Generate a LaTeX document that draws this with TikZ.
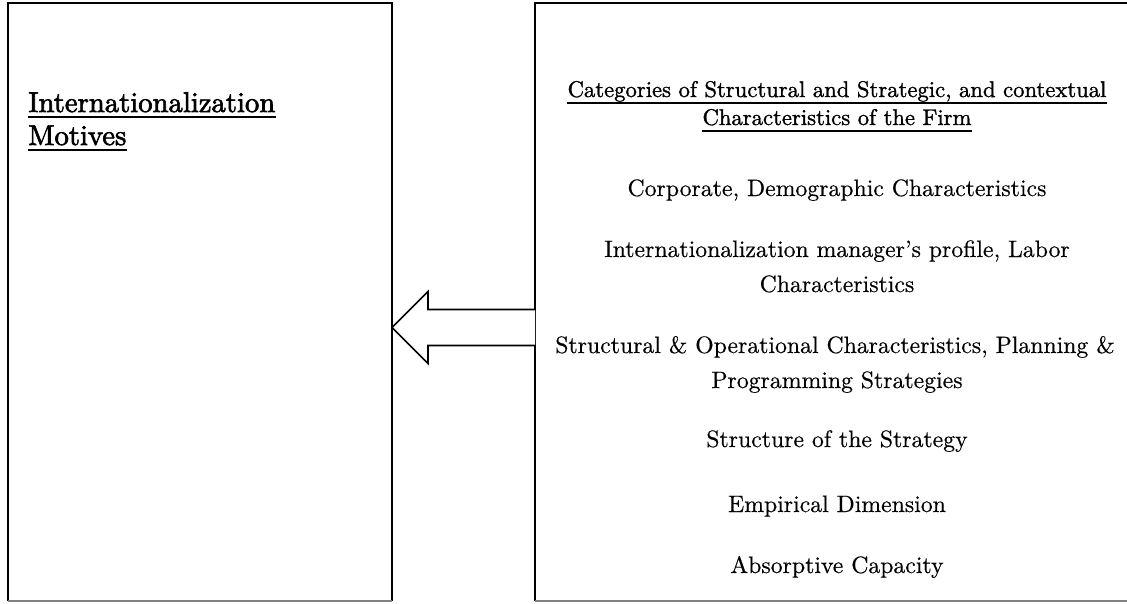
\documentclass[tikz,border=0pt]{standalone}
\usepackage{fontspec}
\newfontfamily\heavyfont{lmroman10-regular.otf}[FakeBold=2.2]
\newfontfamily\headfont{lmroman10-regular.otf}[FakeBold=1.3]
\newfontfamily\bodyfont{lmroman10-regular.otf}[FakeBold=0.4]
\tikzset{
  boxarea/.style={inner sep=0pt, outer sep=0pt, draw=none},
  frame/.style={line width=1.5pt, black},
  baseframe/.style={line width=0.8pt, black!50},
  lefttext/.style={anchor=base west, inner sep=0pt, font=\heavyfont\fontsize{21.5}{26}\selectfont},
  headtext/.style={anchor=base, inner sep=0pt, font=\headfont\fontsize{17}{20}\selectfont},
  bodytext/.style={anchor=base, inner sep=0pt, font=\bodyfont\fontsize{17.8}{21}\selectfont},
  uline/.style={line width=1.1pt, black},
  blockarrow/.style={line width=1.2pt, black, fill=white, line join=miter},
}
\begin{document}
\begin{tikzpicture}[x=0.75pt,y=-0.75pt]
\useasboundingbox (0,0) rectangle (1127,603);
\clip (0,0) rectangle (1127,603);
% boxes
\node[boxarea, minimum width=288pt, minimum height=448.5pt] (L) at (200,302) {};
\node[boxarea, minimum width=453.75pt, minimum height=448.5pt] (R) at (837.5,302) {};
\draw[frame] (L.south west) -- (L.north west) -- (L.north east) -- (L.south east);
\draw[baseframe] (L.south west) -- (L.south east);
\draw[frame] (R.south west) -- (R.north west) -- (R.north east) -- (R.south east);
\draw[baseframe] (R.south west) -- (R.south east);
% left text
\node[lefttext] (t1) at (28,112) {Internationalization};
\node[lefttext] (t2) at (28,145) {Motives};
\draw[uline] ([yshift=-3.8pt]t1.base west) -- ([yshift=-3.8pt]t1.base east);
\draw[uline] ([yshift=-3.8pt]t2.base west) -- ([yshift=-3.8pt]t2.base east);
% right text
\node[headtext] (h1) at (837,97) {Categories of Structural and Strategic, and contextual};
\node[headtext] (h2) at (837,125) {Characteristics of the Firm};
\draw[uline] ([yshift=-4.5pt]h1.base west) -- ([yshift=-4.5pt]h1.base east);
\draw[uline] ([yshift=-4.5pt]h2.base west) -- ([yshift=-4.5pt]h2.base east);
\node[bodytext] (b1) at (837,196) {Corporate, Demographic Characteristics};
\node[bodytext] (b2) at (837,257) {Internationalization manager’s profile, Labor};
\node[bodytext] (b2b) at (837,292) {Characteristics};
\node[bodytext] (b3) at (835,353) {Structural \& Operational Characteristics, Planning \&};
\node[bodytext] (b3b) at (837,388) {Programming Strategies};
\node[bodytext] (b4) at (837,447) {Structure of the Strategy};
\node[bodytext] (b5) at (837,512) {Empirical Dimension};
\node[bodytext] (b6) at (837,573) {Absorptive Capacity};
% block arrow from right box to left box
\coordinate (tip) at (L.east |- 0,327.5);
\coordinate (tail) at (R.west |- 0,327.5);
\draw[blockarrow] ([yshift=13.5pt]tail) -- ([yshift=13.5pt]tip -| 428,0) -- ([yshift=27pt]tip -| 428,0) -- (tip)
  -- ([yshift=-27pt]tip -| 428,0) -- ([yshift=-13.5pt]tip -| 428,0) -- ([yshift=-13.5pt]tail);
\end{tikzpicture}
\end{document}
